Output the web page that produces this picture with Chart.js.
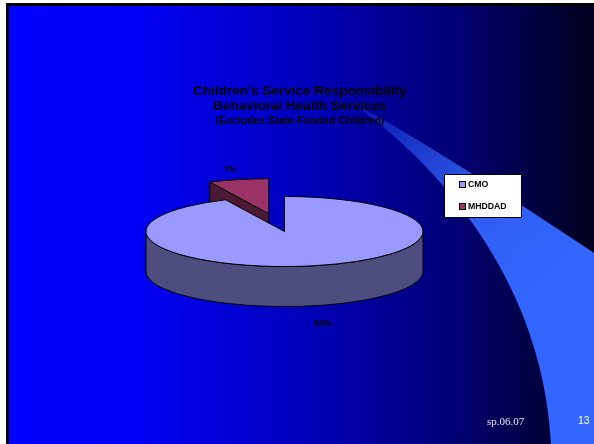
<!DOCTYPE html>
<html>
<head>
<meta charset="utf-8">
<script src="https://cdn.jsdelivr.net/npm/chart.js@4/dist/chart.umd.min.js"></script>
<style>
  html, body { margin: 0; padding: 0; background: #fff; }
  canvas { display: block; }
</style>
</head>
<body>
<canvas id="myChart" width="594" height="444"></canvas>
<script>
// chart data
const labels = ['CMO', 'MHDDAD'];
const shares = [93, 7];
const titleLines = ["Children's Service Responsibility", 'Behavioral Health Services'];
const subTitle = '(Excludes State-Funded Children)';
const footer = 'sp.06.07';
const pageNo = '13';

// look
const topColors = ['#9999FF', '#993366'];
const sideColors = ['#4D4D80', '#4D1A33'];
const TILT = 0.253;   // y squash of the pie
const DEPTH = 40;     // pie thickness in px
const EXPLODE = [0, 72];

function slideBackground(ctx, w, h) {
  ctx.fillStyle = '#ffffff';
  ctx.fillRect(0, 0, w, h);
  ctx.fillStyle = '#000000';
  ctx.fillRect(6, 3, w - 6, h - 3);
  const g = ctx.createLinearGradient(9, 0, w, 0);
  g.addColorStop(0, '#0000FF');
  g.addColorStop(0.22, '#0000F4');
  g.addColorStop(0.5, '#0000BC');
  g.addColorStop(0.75, '#000078');
  g.addColorStop(1, '#00001E');
  ctx.fillStyle = g;
  ctx.fillRect(9, 6, w - 9, h - 6);

  // swoosh
  const sg = ctx.createLinearGradient(362, 108, 540, 290);
  sg.addColorStop(0, 'rgba(51,102,255,0.25)');
  sg.addColorStop(0.55, 'rgba(51,102,255,0.9)');
  sg.addColorStop(1, 'rgba(51,102,255,1)');
  ctx.fillStyle = sg;
  ctx.beginPath();
  ctx.moveTo(362, 108);
  ctx.bezierCurveTo(420, 140, 500, 190, w, 253);
  ctx.lineTo(w, h);
  ctx.lineTo(551, h);
  ctx.bezierCurveTo(545, 320, 480, 200, 362, 110);
  ctx.closePath();
  ctx.fill();
}

function arcGeom(arc, i) {
  const p = arc.getProps(['x', 'y', 'startAngle', 'endAngle', 'outerRadius'], true);
  const mid = (p.startAngle + p.endAngle) / 2;
  const cx = p.x + Math.cos(mid) * EXPLODE[i];
  const cy = p.y + Math.sin(mid) * EXPLODE[i] * TILT;
  return { ...p, mid, cx, cy, r: p.outerRadius };
}

const pie3d = {
  id: 'pie3d',
  beforeDraw(chart) {
    slideBackground(chart.ctx, chart.width, chart.height);
  },
  beforeDatasetsDraw(chart) {
    const ctx = chart.ctx;
    const meta = chart.getDatasetMeta(0);
    const order = meta.data.map((a, i) => i).reverse(); // back slice first
    for (const i of order) {
      const arc = meta.data[i];
      const g = arcGeom(arc, i);
      ctx.save();
      ctx.fillStyle = sideColors[i];
      ctx.strokeStyle = '#000000';
      ctx.lineWidth = 1;
      ctx.lineJoin = 'round';
      // cut faces
      [[g.startAngle, -1], [g.endAngle, 1]].forEach(([t, sgn]) => {
        if (sgn * Math.cos(t) <= 0.001) return;
        const px = g.cx + g.r * Math.cos(t);
        const py = g.cy + g.r * Math.sin(t) * TILT;
        ctx.beginPath();
        ctx.moveTo(g.cx, g.cy);
        ctx.lineTo(px, py);
        ctx.lineTo(px, py + DEPTH);
        ctx.lineTo(g.cx, g.cy + DEPTH);
        ctx.closePath();
        ctx.fill();
        ctx.stroke();
      });
      // outer wall, front half only
      const a = Math.max(g.startAngle, 0);
      const b = Math.min(g.endAngle, Math.PI);
      if (b > a) {
        ctx.beginPath();
        ctx.ellipse(g.cx, g.cy, g.r, g.r * TILT, 0, a, b);
        ctx.ellipse(g.cx, g.cy + DEPTH, g.r, g.r * TILT, 0, b, a, true);
        ctx.closePath();
        ctx.fill();
        ctx.stroke();
      }
      ctx.restore();

      // top face drawn by the arc element itself, squashed
      ctx.save();
      ctx.translate(g.cx, g.cy);
      ctx.scale(1, TILT);
      ctx.translate(-g.x, -g.y);
      arc.draw(ctx);
      ctx.restore();
      ctx.save();
      ctx.strokeStyle = '#000000';
      ctx.lineWidth = 1;
      ctx.lineJoin = 'round';
      ctx.stroke();
      ctx.restore();
    }
    return false;
  },
  afterDraw(chart) {
    const ctx = chart.ctx;
    const meta = chart.getDatasetMeta(0);
    const data = chart.data.datasets[0].data;
    const total = data.reduce((s, v) => s + v, 0);
    ctx.save();

    // percent labels
    ctx.fillStyle = '#000000';
    ctx.font = 'bold 8.6px "Liberation Sans", Arial, sans-serif';
    ctx.textAlign = 'center';
    ctx.textBaseline = 'middle';
    meta.data.forEach((arc, i) => {
      const g = arcGeom(arc, i);
      const lr = g.r * 1.27;
      const front = Math.sin(g.mid) > 0;
      const lx = g.cx + Math.cos(g.mid) * lr;
      const ly = g.cy + Math.sin(g.mid) * lr * TILT + (front ? DEPTH + 9 : -1);
      ctx.fillText(Math.round(data[i] / total * 100) + '%', lx, ly);
    });

    // title
    ctx.font = 'bold 13.5px "Liberation Sans", Arial, sans-serif';
    ctx.fillText(titleLines[0], 300, 91);
    ctx.fillText(titleLines[1], 300, 106);
    ctx.font = 'bold 10.5px "Liberation Sans", Arial, sans-serif';
    ctx.fillText(subTitle, 300, 121);

    // legend
    ctx.fillStyle = '#ffffff';
    ctx.fillRect(444.5, 174.5, 77, 43);
    ctx.strokeStyle = '#000000';
    ctx.lineWidth = 1;
    ctx.strokeRect(444.5, 174.5, 77, 43);
    ctx.textAlign = 'left';
    ctx.font = 'bold 8.7px "Liberation Sans", Arial, sans-serif';
    chart.data.labels.forEach((lab, i) => {
      const yy = 184.5 + i * 22;
      ctx.fillStyle = topColors[i];
      ctx.fillRect(459.5, yy - 3, 6, 6);
      ctx.strokeRect(459.5, yy - 3, 6, 6);
      ctx.fillStyle = '#000000';
      ctx.fillText(lab, 468, yy + 0.5);
    });

    // footer
    ctx.fillStyle = '#E6E6E6';
    ctx.font = '11px "Liberation Serif", "Times New Roman", serif';
    ctx.textBaseline = 'alphabetic';
    ctx.fillText(footer, 487, 425);
    ctx.fillStyle = '#FFFFFF';
    ctx.font = '10.5px "Liberation Sans", Arial, sans-serif';
    ctx.fillText(pageNo, 578, 424);
    ctx.restore();
  }
};

const ctx = document.getElementById('myChart').getContext('2d');
const myChart = new Chart(ctx, {
  type: 'pie',
  data: {
    labels: labels,
    datasets: [{
      data: shares,
      backgroundColor: topColors,
      borderWidth: 0
    }]
  },
  options: {
    responsive: false,
    animation: false,
    devicePixelRatio: 1,
    radius: 138.5,
    rotation: 0,
    layout: { padding: { left: 0, right: 25, top: 19, bottom: 0 } },
    plugins: {
      legend: { display: false },
      title: { display: false },
      tooltip: { enabled: false }
    }
  },
  plugins: [pie3d]
});
</script>
</body>
</html>
